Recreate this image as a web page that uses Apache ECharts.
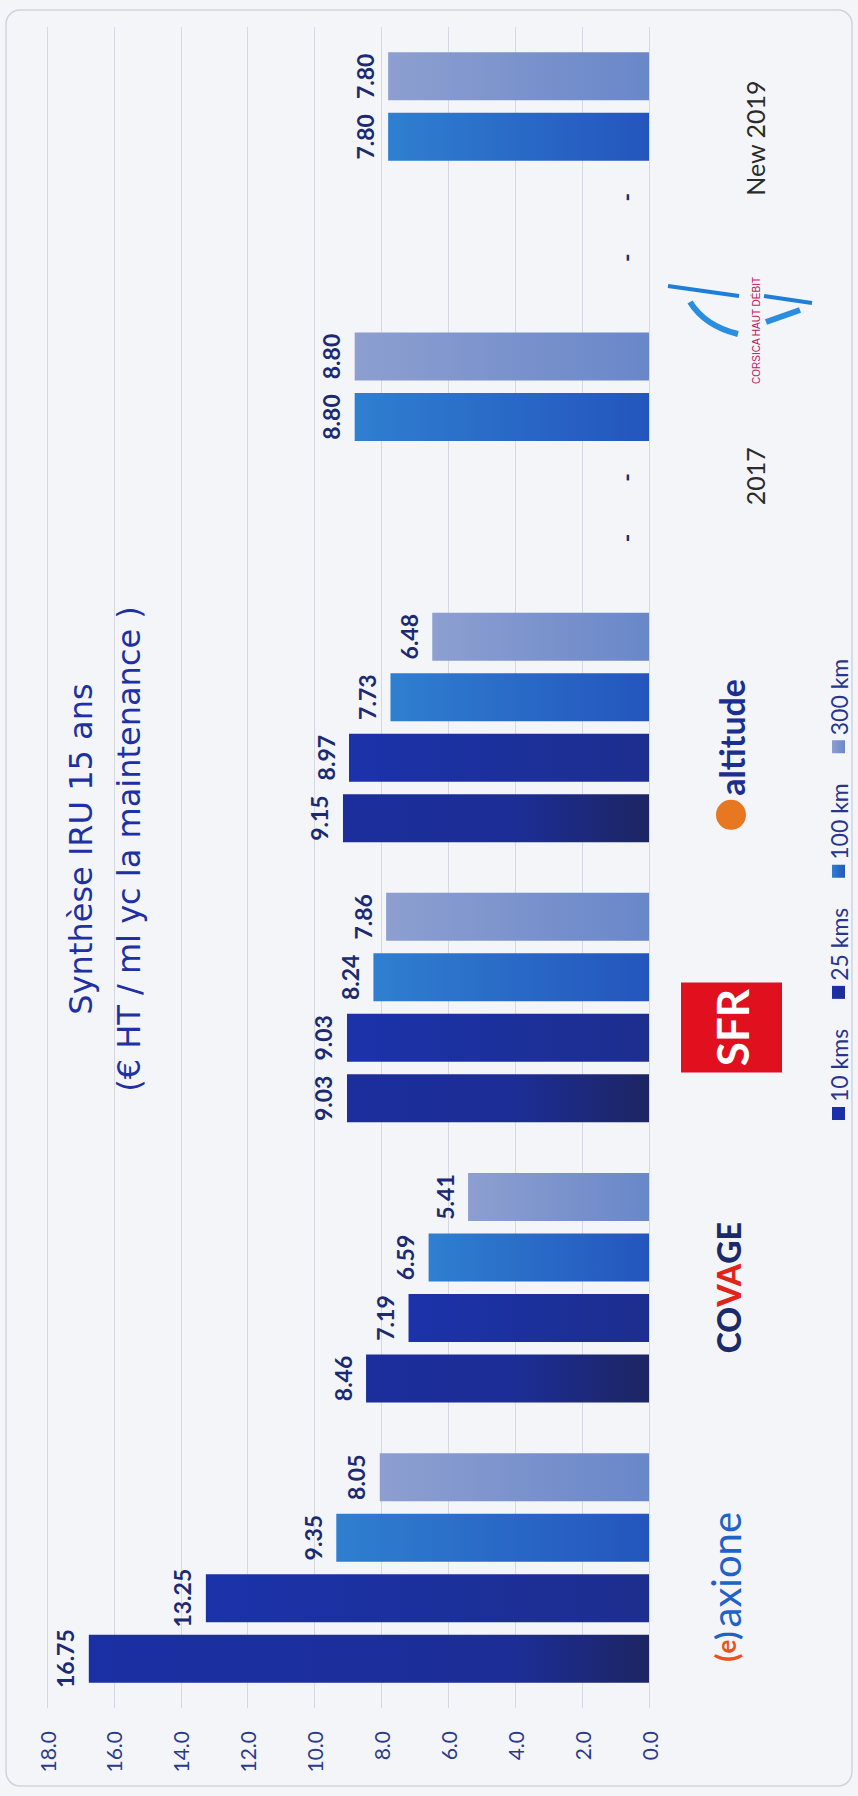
<!DOCTYPE html>
<html>
<head>
<meta charset="utf-8">
<script src="https://cdn.jsdelivr.net/npm/echarts@6/dist/echarts.min.js"></script>
<style>
  html, body { margin: 0; padding: 0; width: 858px; height: 1796px; overflow: hidden; background: #f4f5f9; }
  #chart { position: absolute; left: 0; top: 0; width: 1796px; height: 858px;
           transform-origin: 0 0; transform: translateY(1796px) rotate(-90deg); }
</style>
</head>
<body>
<div id="chart"></div>
<script>
// ---- data ----
const categories = ['axione', 'COVAGE', 'SFR', 'altitude', '2017', 'New 2019'];
const seriesNames = ['10 kms', '25 kms', '100 km', '300 km'];
const km10  = [16.75, 8.46, 9.03, 9.15, 0, 0];
const km25  = [13.25, 7.19, 9.03, 8.97, 0, 0];
const km100 = [9.35, 6.59, 8.24, 7.73, 8.80, 7.80];
const km300 = [8.05, 5.41, 7.86, 6.48, 8.80, 7.80];
const valueTicks = [0, 2, 4, 6, 8, 10, 12, 14, 16, 18];
const titleLines = ['Synthèse IRU 15 ans', '(€ HT / ml yc la maintenance )'];
const logoText = 'CORSICA HAUT DÉBIT';

// ---- styles ----
const grad = (top, bottom) => new echarts.graphic.LinearGradient(0, 0, 0, 1, [
  { offset: 0, color: top }, { offset: 1, color: bottom }
]);
const colors = [
  new echarts.graphic.LinearGradient(0, 47, 0, 649, [
    { offset: 0, color: '#1b30a6' }, { offset: 0.78, color: '#1c2d96' }, { offset: 1, color: '#1d2562' }
  ], true),
  grad('#1b32aa', '#1d2e8e'),
  grad('#2f7fd0', '#2455bd'),
  grad('#8d9fd0', '#6987c9')
];
const seriesData = [km10, km25, km100, km300];

const chart = echarts.init(document.getElementById('chart'), null, { renderer: 'svg', width: 1796, height: 858 });

const labelFmt = function (v) {
  switch (v) {
    case 'axione': return '{ap|(}{ae|e}{bp|)}{ax|axione}{padA|}';
    case 'COVAGE': return '{co|CO}{va|VA}{co|GE}';
    case 'SFR': return '{sfr|SFR}{padS|}';
    case 'altitude': return '{ao|}{at|altitude}{padL|}';
    case '2017': return '{yr|2017}{padY|}';
    case 'New 2019': return '{padY|}{yr|New 2019}';
  }
  return v;
};

const option = {
  backgroundColor: '#f4f5f9',
  animation: false,
  title: {
    text: titleLines.join('\n'),
    left: 942,
    top: 52,
    textAlign: 'center',
    textStyle: { fontFamily: 'DejaVu Sans', fontSize: 32, fontWeight: 'normal', color: '#1d31a2', lineHeight: 48 }
  },
  legend: {
    data: seriesNames,
    left: 671,
    top: 822,
    icon: 'rect',
    itemWidth: 13,
    itemHeight: 13,
    itemGap: 30,
    textStyle: { fontFamily: 'Lato', fontSize: 23, color: '#26368e' }
  },
  grid: { left: 88, right: 27, top: 47, bottom: 209 },
  xAxis: {
    type: 'category',
    data: categories,
    axisLine: { show: false },
    axisTick: { show: false },
    axisLabel: {
      margin: 32,
      interval: 0,
      formatter: labelFmt,
      rich: {
        ap: { color: '#e8541e', fontFamily: 'Lato', fontWeight: 'bold', fontSize: 30, lineHeight: 90 },
        ae: { color: '#e8541e', fontFamily: 'Lato', fontWeight: 'bold', fontSize: 26, lineHeight: 90 },
        bp: { color: '#1f62c8', fontFamily: 'Lato', fontWeight: 'bold', fontSize: 30, lineHeight: 90 },
        ax: { color: '#1f62c8', fontFamily: 'Lato', fontSize: 40, lineHeight: 90, padding: [0, 0, 0, 4] },
        padA: { width: 38 },
        co: { color: '#1b2a6b', fontFamily: 'Lato', fontWeight: 900, fontSize: 32, lineHeight: 94 },
        va: { color: '#e2231a', fontFamily: 'Lato', fontWeight: 900, fontSize: 32, lineHeight: 94 },
        sfr: { color: '#ffffff', backgroundColor: '#e0101e', fontFamily: 'Lato', fontWeight: 'bold', fontSize: 44, width: 90, height: 101, align: 'center', lineHeight: 101 },
        padS: { width: 40 },
        ao: { backgroundColor: '#e87722', width: 30, height: 30, borderRadius: 15, lineHeight: 100 },
        at: { color: '#1b2f8f', fontFamily: 'Lato', fontWeight: 'bold', fontSize: 34, lineHeight: 100, padding: [0, 0, 0, 4] },
        padL: { width: 54 },
        yr: { color: '#2a2a2a', fontFamily: 'Lato', fontSize: 25, lineHeight: 148 },
        padY: { width: 58 }
      }
    }
  },
  yAxis: {
    type: 'value',
    min: valueTicks[0],
    max: valueTicks[valueTicks.length - 1],
    interval: valueTicks[1] - valueTicks[0],
    axisLine: { show: false },
    axisTick: { show: false },
    splitLine: { lineStyle: { color: '#d6d9e1', width: 1 } },
    axisLabel: { margin: 23, fontFamily: 'Lato', fontSize: 21, color: '#2a3a8c', formatter: v => v.toFixed(1) }
  },
  series: seriesNames.map((name, i) => ({
    name: name,
    type: 'bar',
    data: seriesData[i],
    barWidth: 48,
    barGap: '26%',
    itemStyle: { color: colors[i] },
    label: {
      show: true,
      position: 'top',
      distance: 12,
      fontFamily: 'Lato',
      fontWeight: 'bold',
      fontSize: 23,
      color: '#1b2a72',
      formatter: p => (p.value === 0 ? '-' : p.value.toFixed(2))
    }
  })),
  graphic: [
    { type: 'rect', silent: true, shape: { x: 10, y: 6, width: 1776, height: 846, r: 14 }, style: { fill: 'none', stroke: '#cfd3da', lineWidth: 1.5 } },
    { type: 'group', silent: true, children: [
      { type: 'polyline', shape: { points: [[1510, 668], [1500, 739]] }, style: { stroke: '#1e7fd8', lineWidth: 4, fill: 'none' } },
      { type: 'polyline', shape: { points: [[1500, 764], [1493, 812]] }, style: { stroke: '#1e7fd8', lineWidth: 4, fill: 'none' } },
      { type: 'bezierCurve', shape: { x1: 1494, y1: 690, x2: 1462, y2: 738, cpx1: 1470, cpy1: 705 }, style: { stroke: '#2a8de0', lineWidth: 6, fill: 'none' } },
      { type: 'polyline', shape: { points: [[1474, 766], [1486, 800]] }, style: { stroke: '#2a8de0', lineWidth: 6, fill: 'none' } },
      { type: 'text', style: { x: 1412, y: 751, text: logoText, fontSize: 10, fontFamily: 'Liberation Sans Narrow, Liberation Sans', fill: '#c2185b' } }
    ] }
  ]
};
chart.setOption(option);
</script>
</body>
</html>
